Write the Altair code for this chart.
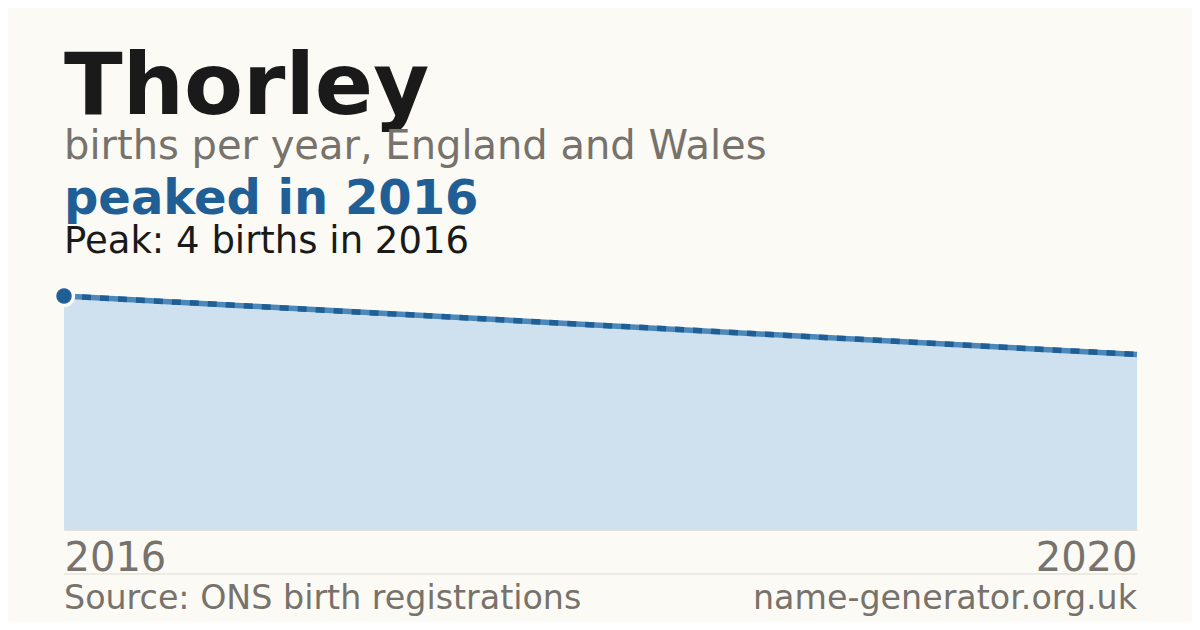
import altair as alt
import pandas as pd

years = [2016, 2020]
births = [4, 3]
tick_years = [2016, 2020]

title_text = "Thorley"
subtitle_text = "births per year, England and Wales"
highlight_text = "peaked in 2016"
peak_text = "Peak: 4 births in 2016"
source_text = "Source: ONS birth registrations"
site_text = "name-generator.org.uk"
peak_year = [2016]
peak_value = [4]

df = pd.DataFrame({"year": years, "births": births})
peak_df = pd.DataFrame({"year": peak_year, "births": peak_value})

W, H = 1073, 234
FONT = "DejaVu Sans"
GREY = "#77726b"
BLUE = "#1f5f96"

xs = alt.X("year:Q", scale=alt.Scale(domain=[2016, 2020], nice=False, zero=False),
           axis=alt.Axis(values=tick_years, format="d", labelFlush=True, ticks=False,
                         grid=False, domain=True, domainColor="#e4e1da", domainWidth=1,
                         labelFont=FONT, labelFontSize=40, labelColor=GREY,
                         labelBaseline="alphabetic", labelPadding=40, title=None))
ys = alt.Y("births:Q", scale=alt.Scale(domain=[0, 4], nice=False), axis=None)

base = alt.Chart(df)
area = base.mark_area(color="#cfe0ef", opacity=1).encode(x=xs, y=ys)
line_bg = base.mark_line(color="#4d88bb", strokeWidth=5.5).encode(x=xs, y=ys)
line_dash = base.mark_line(color=BLUE, strokeWidth=5.5, strokeDash=[9, 9]).encode(x=xs, y=ys)
halo = alt.Chart(peak_df).mark_point(filled=True, shape="circle", size=500, color="#fbfaf5",
                                     opacity=1, clip=False).encode(x=xs, y=ys)
point = alt.Chart(peak_df).mark_point(filled=True, shape="circle", size=240, color=BLUE,
                                      opacity=1, clip=False).encode(x=xs, y=ys)

one = pd.DataFrame({"k": [0]})

def txt(text, y, size, color, weight="normal", align="left", x=0):
    return alt.Chart(one).mark_text(text=text, font=FONT, fontSize=size, color=color,
                                    fontWeight=weight, align=align, baseline="alphabetic",
                                    clip=False).encode(x=alt.value(x), y=alt.value(y))

t1 = txt(title_text, -182, 86, "#1a1a1a", "bold")
t2 = txt(subtitle_text, -137, 40, GREY)
t3 = txt(highlight_text, -82, 48, BLUE, "bold")
t4 = txt(peak_text, -43, 37, "#1a1a1a")
t5 = txt(source_text, 313, 33.3, GREY)
t6 = txt(site_text, 313, 33.3, GREY, align="right", x=W)
sep = alt.Chart(one).mark_rule(color="#dedbd3", strokeWidth=1).encode(
    x=alt.value(0), x2=alt.value(W), y=alt.value(278))

chart = alt.layer(area, line_bg, line_dash, halo, point, sep, t1, t2, t3, t4, t5, t6).properties(
    width=W, height=H,
    autosize=alt.AutoSizeParams(type="none"),
    padding={"left": 56, "top": 288, "right": 55, "bottom": 92},
    background="#fbfaf5",
).configure_view(strokeWidth=0)

chart.save("out.html", embed_options={"renderer": "svg", "actions": False})
